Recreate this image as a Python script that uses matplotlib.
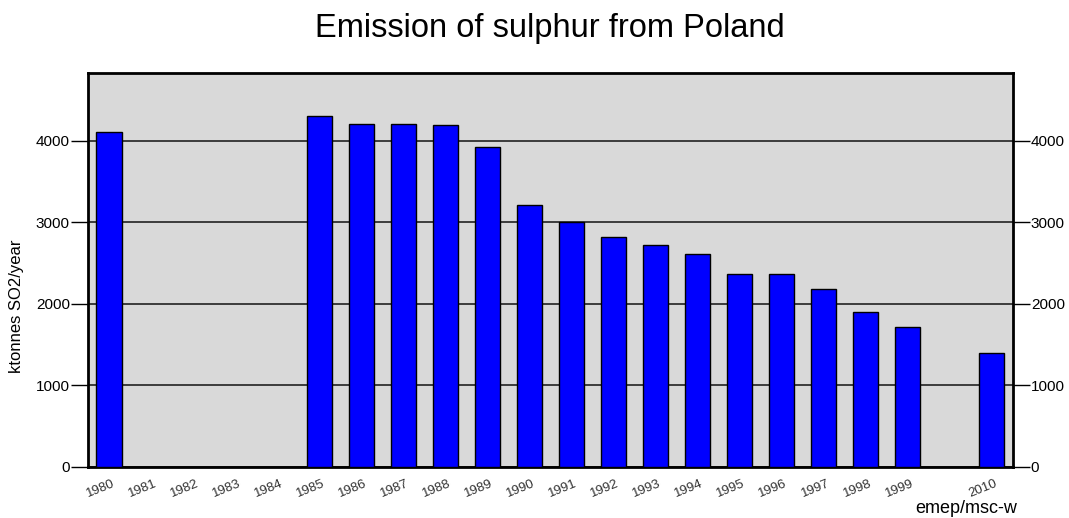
import matplotlib
matplotlib.use("Agg")
import matplotlib.pyplot as plt
import matplotlib.transforms as mtransforms
import numpy as np

plt.rcParams['font.family'] = ['Liberation Sans', 'DejaVu Sans']

title = "Emission of sulphur from Poland"
ylabel = "ktonnes SO2/year"
credit = "emep/msc-w"
years = ["1980", "1981", "1982", "1983", "1984", "1985", "1986", "1987", "1988", "1989",
         "1990", "1991", "1992", "1993", "1994", "1995", "1996", "1997", "1998", "1999", "2010"]
emissions = [4110, np.nan, np.nan, np.nan, np.nan, 4300, 4205, 4205, 4190, 3925,
             3210, 3000, 2815, 2725, 2610, 2365, 2365, 2180, 1900, 1710, 1390]
yticks = [0, 1000, 2000, 3000, 4000]

# slot positions: consecutive years side by side, one empty slot before 2010
yrs = np.array([int(y) for y in years])
pos = np.arange(len(yrs), dtype=float)
pos[yrs > 1999] += 1

W, H = 1069, 518
fig = plt.figure(figsize=(W / 100, H / 100), dpi=100)
ax = fig.add_axes([88 / W, 1 - 466.7 / H, (1012.7 - 88) / W, (466.7 - 72.7) / H])
ax.set_facecolor('#d9d9d9')

vals = np.array(emissions, dtype=float)
ok = ~np.isnan(vals)
ax.bar(pos[ok], vals[ok], width=0.6, color='#0000ff', edgecolor='black', linewidth=1.0, zorder=3)

ax.set_xlim(-0.5, pos[-1] + 0.5)
ax.set_ylim(0, 4835)
ax.set_yticks(yticks)
ax.yaxis.grid(True, color='#222222', linewidth=1.2, zorder=1)
ax.set_axisbelow(True)

ax.tick_params(axis='y', left=True, right=True, labelleft=True, labelright=True,
               length=12, width=1, direction='out', pad=1, labelsize=11, colors='black')
ax.set_xticks(pos)
ax.set_xticklabels(years, rotation=22, ha='right', rotation_mode='anchor',
                   fontsize=9.5, color='#333333')
ax.tick_params(axis='x', length=0, pad=8)
shift = mtransforms.ScaledTranslation(3 / 100, 0, fig.dpi_scale_trans)
for lab in ax.get_xticklabels():
    lab.set_transform(lab.get_transform() + shift)

for s in ax.spines.values():
    s.set_linewidth(2)
    s.set_color('black')

ax.set_ylabel(ylabel, fontsize=12)
ax.yaxis.set_label_coords(-0.069, 0.408)

fig.text(550 / W, 1 - 37 / H, title, ha='center', va='baseline', fontsize=23.5)
fig.text(1017 / W, 1 - 513 / H, credit, ha='right', va='baseline', fontsize=13)

fig.savefig('out.png', dpi=100)
